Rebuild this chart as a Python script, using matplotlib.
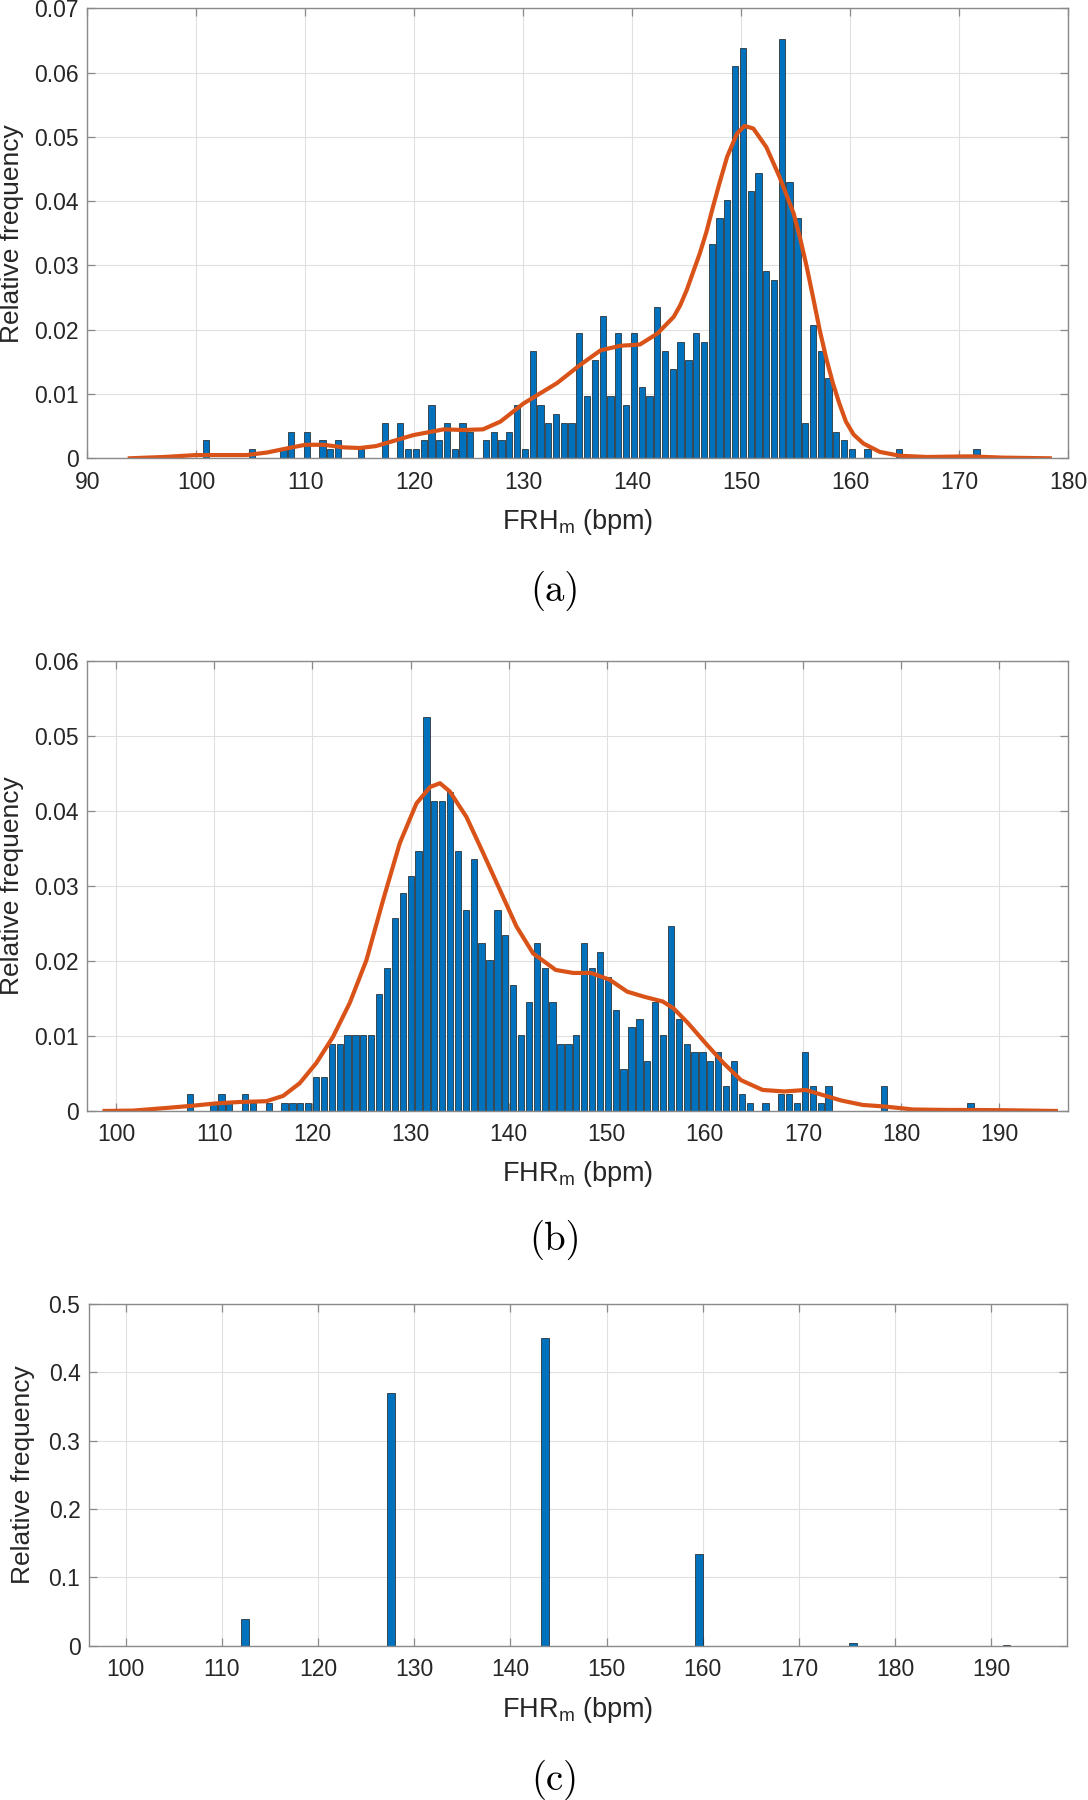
import numpy as np
import matplotlib
matplotlib.use('Agg')
import matplotlib.pyplot as plt

plt.rcParams['font.family'] = ['Liberation Sans', 'DejaVu Sans']
plt.rcParams['mathtext.fontset'] = 'custom'
plt.rcParams['mathtext.rm'] = 'Liberation Sans'
plt.rcParams['mathtext.it'] = 'Liberation Sans:italic'

# ---- panel (a): histogram counts per bin + smoothed density
a_first_center = 100.86
a_bin_width = 0.7143
a_counts = [2, 0, 0, 0, 0, 0, 1, 0, 0, 0, 1, 3, 0, 3, 0, 2, 1, 2, 0, 0,
            1, 0, 0, 4, 0, 4, 1, 1, 2, 6, 2, 4, 1, 4, 3, 0, 2, 3, 2, 3,
            6, 1, 12, 6, 4, 5, 4, 4, 14, 7, 11, 16, 7, 14, 6, 14, 8, 7, 17, 12,
            10, 13, 11, 14, 13, 24, 27, 29, 44, 46, 30, 32, 21, 20, 47, 31, 27, 4, 15, 12,
            9, 3, 2, 1, 0, 1, 0, 0, 0, 1, 0, 0, 0, 0, 0, 0, 0, 0, 0, 1]
a_kde_x = [93.9, 97.0, 100.0, 104.6, 106.5, 108.5, 110.0, 111.7, 113.5, 115.0,
           116.5, 117.5, 119.9, 122.7, 124.5, 126.3, 127.9, 130.0, 133.1, 135.2,
           137.1, 138.9, 140.7, 142.3, 143.8, 144.4, 145.0, 146.2, 146.8, 147.4,
           148.0, 148.7, 149.6, 150.3, 151.1, 152.3, 153.5, 154.8, 155.4, 156.0,
           156.6, 157.2, 157.8, 158.4, 159.0, 159.6, 160.3, 161.2, 162.7, 164.5,
           167.0, 171.0, 174.0, 178.3]
a_kde_y = [0.0, 0.0002, 0.0005, 0.0005, 0.0009, 0.0016, 0.0021, 0.0021, 0.0017, 0.0016,
           0.0019, 0.0024, 0.0036, 0.0045, 0.0044, 0.0045, 0.0057, 0.0085, 0.0117, 0.0145,
           0.0168, 0.0175, 0.0177, 0.0194, 0.0220, 0.0238, 0.0262, 0.0319, 0.0352, 0.0391,
           0.0428, 0.0469, 0.0505, 0.0517, 0.0513, 0.0484, 0.0438, 0.0381, 0.0342, 0.0298,
           0.0249, 0.0199, 0.0155, 0.0117, 0.0085, 0.0057, 0.0037, 0.0023, 0.0010, 0.0004,
           0.0002, 0.0003, 0.0001, 0.0]

# ---- panel (b)
b_first_center = 107.5
b_bin_width = 0.804
b_counts = [2, 0, 0, 1, 2, 1, 0, 2, 1, 0, 1, 0, 1, 1, 1, 1, 4, 4, 8, 8,
            9, 9, 9, 9, 14, 17, 23, 26, 28, 31, 47, 37, 37, 38, 31, 24, 30, 20, 18, 24,
            21, 15, 9, 13, 20, 17, 13, 8, 8, 9, 20, 17, 19, 16, 12, 5, 10, 11, 6, 13,
            9, 22, 11, 8, 7, 7, 6, 7, 3, 6, 2, 1, 0, 1, 0, 2, 2, 1, 7, 3,
            1, 3, 0, 0, 0, 0, 0, 0, 3, 0, 0, 0, 0, 0, 0, 0, 0, 0, 0, 1]
b_kde_x = [98.8, 101.7, 105.1, 107.8, 110.1, 112.6, 115.3, 117.0, 118.7, 120.4,
           122.1, 123.8, 125.5, 127.2, 128.9, 130.6, 132.0, 133.0, 134.0, 135.7,
           137.4, 139.1, 140.8, 142.5, 144.8, 146.6, 148.4, 150.3, 152.1, 153.9,
           155.7, 156.8, 158.3, 160.1, 161.9, 163.7, 165.9, 168.1, 170.3, 172.1,
           173.9, 176.1, 178.3, 181.2, 184.9, 187.4, 190.3, 195.8]
b_kde_y = [0.0, 0.00005, 0.0004, 0.0007, 0.0010, 0.0012, 0.0013, 0.0020, 0.0037, 0.0064,
           0.0099, 0.0144, 0.0201, 0.0281, 0.0357, 0.0410, 0.0432, 0.0437, 0.0426, 0.0392,
           0.0344, 0.0295, 0.0246, 0.0210, 0.0188, 0.0184, 0.0184, 0.0175, 0.0159, 0.0152,
           0.0146, 0.0137, 0.0117, 0.0090, 0.0064, 0.0041, 0.0028, 0.0026, 0.0028, 0.0021,
           0.0014, 0.0008, 0.0006, 0.0002, 0.00013, 0.00013, 0.0001, 0.0]

# ---- panel (c)
c_centers = [112.4, 127.6, 143.6, 159.6, 175.6, 191.6]
c_freq = [0.0385, 0.370, 0.4507, 0.1337, 0.0044, 0.0005]
c_bar_width = 0.78

blue = '#0072BD'
orange = '#D95319'
axcol = '#8a8a8a'
txtcol = '#262626'


def style_axes(ax, xlim, xticks, ylim, yticks):
    ax.set_xlim(xlim)
    ax.set_ylim(ylim)
    ax.set_xticks(xticks)
    ax.set_xticklabels([str(t) for t in xticks])
    ax.set_yticks(yticks)
    ax.set_yticklabels(['%g' % t for t in yticks])
    ax.grid(True, color='#e0e0e0', linewidth=0.8)
    ax.set_axisbelow(True)
    for s in ax.spines.values():
        s.set_color(axcol)
        s.set_linewidth(1.0)
    ax.tick_params(direction='in', length=6, width=0.9, color=axcol,
                   top=True, right=True, labelsize=16.5, labelcolor=txtcol)
    ax.tick_params(axis='x', pad=9)
    ax.tick_params(axis='y', pad=6)


fig = plt.figure(figsize=(10.88, 18), dpi=100)

# (a)
ax1 = fig.add_axes([0.0802, 0.7454, 0.9017, 0.25])
a_x = a_first_center + a_bin_width * np.arange(len(a_counts))
a_rel = np.array(a_counts) / np.sum(a_counts)
ax1.bar(a_x, a_rel, width=0.8 * a_bin_width, color=blue, edgecolor='#1a1a1a', linewidth=0.5)
ax1.plot(a_kde_x, a_kde_y, color=orange, linewidth=3.0)
style_axes(ax1, (90, 180), list(range(90, 181, 10)), (0, 0.07), [i / 100 for i in range(8)])
ax1.set_ylabel('Relative frequency', fontsize=19, color=txtcol)
ax1.yaxis.set_label_coords(-0.064, 0.5)
ax1.set_xlabel('FRH$_\\mathrm{m}$ (bpm)', fontsize=19.5, color=txtcol)
ax1.xaxis.set_label_coords(0.5, -0.108)

# (b)
ax2 = fig.add_axes([0.0802, 0.3828, 0.9015, 0.25])
b_x = b_first_center + b_bin_width * np.arange(len(b_counts))
b_rel = np.array(b_counts) / np.sum(b_counts)
ax2.bar(b_x, b_rel, width=0.8 * b_bin_width, color=blue, edgecolor='#1a1a1a', linewidth=0.5)
ax2.plot(b_kde_x, b_kde_y, color=orange, linewidth=3.0)
style_axes(ax2, (97.04, 197.04), list(range(100, 191, 10)), (0, 0.06), [i / 100 for i in range(7)])
ax2.set_ylabel('Relative frequency', fontsize=19, color=txtcol)
ax2.yaxis.set_label_coords(-0.064, 0.5)
ax2.set_xlabel('FHR$_\\mathrm{m}$ (bpm)', fontsize=19.5, color=txtcol)
ax2.xaxis.set_label_coords(0.5, -0.1067)

# (c)
ax3 = fig.add_axes([0.0816, 0.0857, 0.8994, 0.1898])
ax3.bar(c_centers, c_freq, width=c_bar_width, color=blue, edgecolor='#1a1a1a', linewidth=0.5)
style_axes(ax3, (96.17, 197.9), list(range(100, 191, 10)), (0, 0.5), [i / 10 for i in range(6)])
ax3.set_ylabel('Relative frequency', fontsize=19, color=txtcol)
ax3.yaxis.set_label_coords(-0.055, 0.5)
ax3.set_xlabel('FHR$_\\mathrm{m}$ (bpm)', fontsize=19.5, color=txtcol)
ax3.xaxis.set_label_coords(0.5, -0.144)

# captions
fig.text(0.51, 1 - 591 / 1800, '(a)', family='cmr10', fontsize=28, ha='center', va='center')
fig.text(0.51, 1 - 1240 / 1800, '(b)', family='cmr10', fontsize=28, ha='center', va='center')
fig.text(0.51, 1 - 1780 / 1800, '(c)', family='cmr10', fontsize=28, ha='center', va='center')

fig.savefig('out.png', dpi=100)
